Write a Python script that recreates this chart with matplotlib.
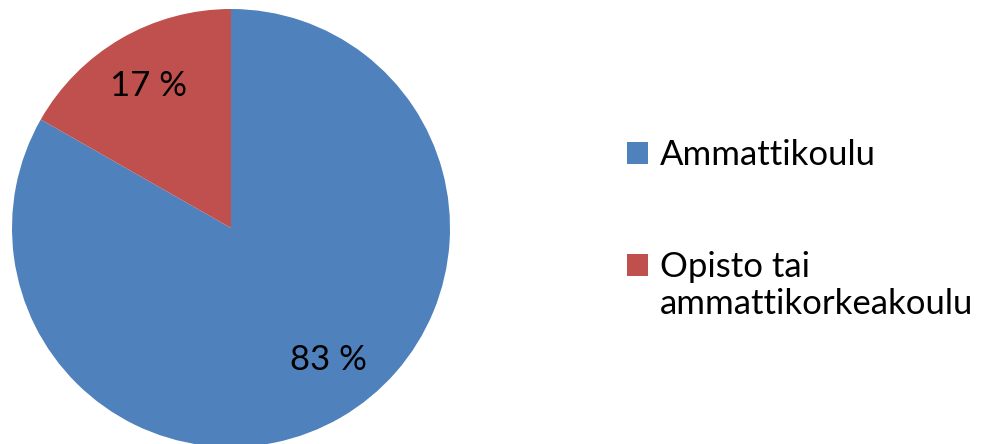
import matplotlib
matplotlib.use("Agg")
import matplotlib.pyplot as plt
import textwrap

# data
categories = ["Ammattikoulu", "Opisto tai ammattikorkeakoulu"]
shares = [83.25, 16.75]
colors = ["#4F81BD", "#C0504D"]

plt.rcParams['font.family'] = ['Lato', 'DejaVu Sans']

W, H = 981, 444
fig = plt.figure(figsize=(W / 100, H / 100), dpi=100)
ax = fig.add_axes([0, 0, 1, 1])

wedges, texts, autotexts = ax.pie(
    shares, colors=colors, startangle=90, counterclock=False,
    autopct=lambda p: "%.0f %%" % p, pctdistance=0.75,
    wedgeprops=dict(linewidth=0), textprops=dict(fontsize=25, color='black'))

# pie centre / radius in pixels
cx, cy, r = 231, 228, 219
ax.set_aspect('auto')
ax.set_xlim(-cx / r, (W - cx) / r)
ax.set_ylim(-(H - cy) / r, cy / r)
ax.axis('off')

# excel puts the big label a bit off the wedge bisector
x0, y0 = autotexts[0].get_position()
autotexts[0].set_position((x0 + 15 / r, y0 + 10 / r))

labels = [textwrap.fill(c, 18) for c in categories]
leg = ax.legend(wedges, labels, loc='upper left',
                bbox_to_anchor=(627 / W, 1 - 139 / H), bbox_transform=fig.transFigure,
                frameon=False, fontsize=25, handlelength=0.6, handleheight=0.6,
                handletextpad=0.35, labelspacing=2.3, borderaxespad=0, borderpad=0)
# align marker with first text line for the wrapped entry
for h, lab in zip(leg.legend_handles, labels):
    n = lab.count("\n")
    if n:
        h.set_y(h.get_y() + n * 15.5)

fig.savefig("out.png", dpi=100)
